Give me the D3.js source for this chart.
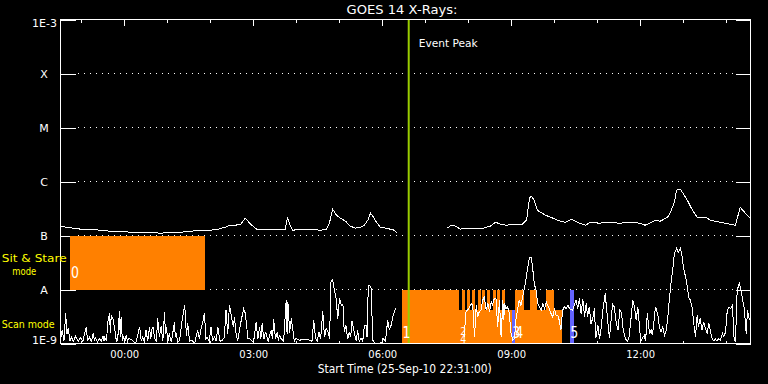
<!DOCTYPE html>
<html>
<head>
<meta charset="utf-8">
<script src="https://cdn.jsdelivr.net/npm/d3@7"></script>
<style>
  body { margin: 0; background: #000; }
  svg { display: block; background: #000; }
  text { font-family: "DejaVu Sans", sans-serif; fill: #fff; }
</style>
</head>
<body>
<svg width="768" height="384"></svg>
<script>
const svg = d3.select('svg');

const startTime = new Date(2010, 8, 25, 22, 31);
const endTime = new Date(2010, 8, 26, 14, 34);
const eventPeak = new Date(2010, 8, 26, 6, 37);

const fluxTicks = [1e-9, 1e-8, 1e-7, 1e-6, 1e-5, 1e-4, 1e-3];
const fluxLabels = ['1E-9', 'A', 'B', 'C', 'M', 'X', '1E-3'];

// [hours since start, flux in 1e-9 W/m2], null = data gap
const longChannel = [
  [0.00,149],[0.12,143],[0.28,137],[0.47,131],[0.70,131],[0.93,125],[1.16,120],[1.40,120],
  [1.63,115],[1.86,115],[2.09,115],[2.33,110],[2.56,115],[2.79,115],[3.02,120],[3.26,125],
  [3.49,125],[3.67,131],[3.84,143],[3.95,155],[4.07,155],[4.19,162],[4.30,209],[4.42,162],
  [4.56,131],[4.84,131],[5.07,131],[5.23,131],[5.28,218],[5.33,162],[5.40,125],[5.58,131],
  [5.81,131],[6.05,125],[6.19,131],[6.26,176],[6.33,307],[6.42,238],[6.51,209],[6.63,184],
  [6.74,149],[6.86,137],[6.98,143],[7.07,155],[7.16,200],[7.21,259],[7.28,218],[7.35,176],
  [7.44,143],[7.56,137],[7.67,131],[7.77,125],[7.84,110],[7.90,null],
  [9.00,137],[9.09,155],[9.19,149],[9.30,131],[9.47,137],[9.65,137],[9.84,137],[10.00,149],
  [10.12,176],[10.23,162],[10.37,155],[10.51,162],[10.65,162],[10.74,162],[10.84,192],[10.91,491],
  [10.95,534],[11.02,451],[11.09,294],[11.16,270],[11.28,238],[11.40,218],[11.51,200],[11.63,184],
  [11.74,176],[11.88,200],[12.02,176],[12.21,155],[12.33,176],[12.53,169],[12.77,176],[13.00,169],
  [13.26,176],[13.47,169],[13.60,155],[13.84,192],[13.95,184],[14.12,218],[14.19,270],[14.28,414],
  [14.33,690],[14.42,720],[14.51,557],[14.58,451],[14.70,294],[14.81,218],[15.00,218],[15.12,192],
  [15.35,176],[15.56,162],[15.70,155],[15.81,334],[15.93,259],[16.05,209]
];

const shortChannel = [
  [0.00,1.2],[0.04,1.76],[0.08,1.1],[0.12,3.59],[0.15,1.5],[0.18,1.92],[0.22,1.1],[0.25,1.33],
  [0.30,1.1],[0.35,1.36],[0.41,1.1],[0.47,1.29],[0.52,1.1],[0.56,1.55],[0.60,1.98],[0.63,1.1],
  [0.67,1.31],[0.72,1.1],[0.76,1.55],[0.79,1.1],[0.81,1.29],[0.86,1.05],[0.91,1.24],[0.95,1.1],
  [0.99,1.36],[1.01,1.1],[1.03,1.29],[1.07,1.1],[1.10,2.51],[1.14,3.59],[1.16,1.6],[1.18,3.34],
  [1.22,2.90],[1.26,1.9],[1.30,1.1],[1.33,1.15],[1.37,3.96],[1.39,1.3],[1.41,3.11],[1.44,1.1],
  [1.47,1.33],[1.50,1.1],[1.53,1.42],[1.56,1.1],[1.59,1.24],[1.67,1.15],[1.75,1.0],[1.84,2.03],
  [1.88,1.1],[1.91,1.29],[1.95,1.1],[1.99,1.76],[2.03,1.1],[2.07,1.98],[2.10,1.2],[2.12,1.76],
  [2.15,2.03],[2.19,1.24],[2.23,1.1],[2.26,2.90],[2.30,1.3],[2.34,2.09],[2.38,1.1],[2.42,3.85],
  [2.44,1.5],[2.46,2.03],[2.50,1.1],[2.53,1.53],[2.58,1.05],[2.65,2.51],[2.67,1.3],[2.69,1.53],
  [2.73,1.05],[2.77,1.15],[2.84,3.11],[2.89,5.12],[2.93,1.4],[2.96,2.35],[3.00,1.1],[3.06,1.15],
  [3.12,1.0],[3.19,1.76],[3.23,1.2],[3.27,1.9],[3.31,2.51],[3.35,3.69],[3.38,1.2],[3.41,1.29],
  [3.46,1.1],[3.50,2.03],[3.54,1.1],[3.58,1.33],[3.62,1.1],[3.66,2.03],[3.71,1.1],[3.76,1.15],
  [3.81,1.3],[3.85,4.14],[3.89,1.5],[3.93,5.12],[3.97,3.34],[4.02,2.03],[4.05,3.11],[4.07,1.76],
  [4.12,1.1],[4.19,2.35],[4.26,4.44],[4.30,3.59],[4.36,1.24],[4.42,1.2],[4.49,1.05],[4.55,2.51],
  [4.59,1.2],[4.63,2.03],[4.66,1.2],[4.69,2.35],[4.73,1.2],[4.77,1.64],[4.83,1.1],[4.90,1.76],
  [4.93,1.2],[4.96,2.78],[5.00,1.2],[5.04,1.64],[5.07,1.1],[5.09,1.42],[5.13,1.24],[5.19,1.1],
  [5.25,6.34],[5.27,1.5],[5.29,5.90],[5.33,1.6],[5.37,2.90],[5.40,1.9],[5.44,1.1],[5.48,1.24],
  [5.56,1.15],[5.67,1.2],[5.81,1.15],[5.85,1.1],[5.89,2.70],[5.93,1.3],[5.97,1.1],[6.01,1.64],
  [6.05,1.2],[6.10,4.01],[6.14,1.3],[6.18,1.9],[6.22,1.64],[6.26,1.24],[6.29,13.8],[6.33,15.3],
  [6.37,9.71],[6.41,6.81],[6.45,2.90],[6.49,6.81],[6.53,5.12],[6.57,5.34],[6.60,1.64],[6.64,2.18],
  [6.68,1.2],[6.72,1.64],[6.75,1.3],[6.78,2.62],[6.84,1.53],[6.88,1.1],[6.91,1.76],[6.95,1.1],
  [6.99,1.24],[7.03,1.1],[7.07,2.18],[7.11,2.18],[7.13,1.3],[7.16,12.0],[7.19,12.0],[7.23,10.4],
  [7.26,1.15],[7.33,1.0],[7.40,1.0],[7.47,1.05],[7.52,1.24],[7.56,1.1],[7.61,2.70],[7.65,1.76],
  [7.69,2.18],[7.73,3.11],[7.77,4.01],[7.81,4.6],[7.85,null],
  [9.39,1.3],[9.43,3.85],[9.50,4.44],[9.55,5.50],[9.59,5.12],[9.63,1.3],[9.67,5.12],[9.70,3.11],
  [9.74,3.85],[9.78,4.14],[9.82,6.34],[9.86,7.31],[9.90,4.14],[9.94,5.50],[9.98,3.85],[10.02,5.90],
  [10.05,5.12],[10.09,6.81],[10.13,6.81],[10.17,2.03],[10.21,6.34],[10.25,1.3],[10.29,6.34],[10.31,2.70],
  [10.33,5.50],[10.36,4.44],[10.40,4.76],[10.44,3.59],[10.48,1.53],[10.52,1.15],[10.56,1.24],[10.60,3.11],
  [10.63,4.14],[10.67,6.34],[10.71,5.12],[10.75,7.31],[10.79,10.4],[10.83,16.0],[10.87,26.2],[10.91,39.1],
  [10.95,39.1],[10.98,26.2],[11.02,12.9],[11.06,9.71],[11.10,5.50],[11.14,4.76],[11.18,4.14],[11.22,5.50],
  [11.26,4.44],[11.30,5.90],[11.33,5.12],[11.37,4.44],[11.41,3.59],[11.45,3.11],[11.49,4.44],[11.53,3.34],
  [11.57,3.34],[11.60,2.70],[11.64,1.76],[11.68,4.14],[11.72,4.76],[11.76,4.44],[11.80,5.12],[11.84,4.44],
  [11.91,4.14],[11.99,6.34],[12.03,4.44],[12.07,6.81],[12.11,3.59],[12.15,6.53],[12.19,3.11],[12.23,5.50],
  [12.26,3.11],[12.30,4.76],[12.34,2.35],[12.38,2.90],[12.42,4.44],[12.45,1.24],[12.50,2.18],[12.54,1.2],
  [12.57,1.76],[12.62,4.44],[12.67,8.43],[12.72,3.11],[12.77,1.24],[12.84,5.34],[12.88,4.76],[12.93,2.35],
  [12.97,1.76],[13.01,4.26],[13.05,3.59],[13.09,1.76],[13.14,1.24],[13.18,1.1],[13.22,1.24],[13.26,2.35],
  [13.31,6.34],[13.35,4.76],[13.39,2.70],[13.43,4.76],[13.47,1.9],[13.50,1.1],[13.53,1.24],[13.58,1.42],
  [13.61,1.1],[13.65,3.59],[13.70,1.53],[13.74,1.76],[13.77,1.42],[13.84,4.76],[13.89,3.59],[13.93,2.03],
  [13.97,1.64],[14.01,2.03],[14.05,1.42],[14.09,1.76],[14.12,2.70],[14.16,6.34],[14.20,12.9],[14.24,22.8],
  [14.28,46.4],[14.33,57.5],[14.37,49.1],[14.42,57.5],[14.46,40.2],[14.49,26.2],[14.53,18.4],[14.57,12.9],
  [14.61,7.31],[14.65,6.34],[14.69,4.76],[14.73,2.35],[14.77,1.33],[14.81,3.34],[14.84,2.03],[14.88,2.90],
  [14.92,1.76],[14.96,2.51],[15.00,1.9],[15.04,1.53],[15.08,2.35],[15.12,1.64],[15.16,1.24],[15.20,1.1],
  [15.23,1.24],[15.27,1.1],[15.31,1.24],[15.35,1.15],[15.40,1.53],[15.43,1.33],[15.47,1.64],[15.51,4.14],
  [15.55,4.76],[15.59,4.44],[15.63,5.12],[15.67,1.15],[15.70,1.1],[15.74,9.71],[15.79,12.9],[15.83,9.71],
  [15.87,6.34],[15.91,4.14],[15.95,1.53],[15.98,4.14],[16.02,2.90],[16.05,2.70]
];

// observing mode blocks (hours since start, flux W/m2)
const modeStart = [0.23, 7.95, 7.95, 9.33, 9.45, 9.58, 9.70, 9.81, 9.93, 10.05, 10.16, 10.28, 10.58, 10.93, 11.30, 10.51, 11.86];
const modeEnd   = [3.35, 11.67, 9.28, 9.41, 9.53, 9.65, 9.77, 9.88, 10.00, 10.12, 10.23, 10.35, 10.77, 11.09, 11.49, 10.57, 11.95];
const modeLow   = [1e-8, 1e-9, 4.1e-9, 4.1e-9, 4.1e-9, 4.1e-9, 4.1e-9, 4.1e-9, 4.1e-9, 4.1e-9, 4.1e-9, 4.1e-9, 4.1e-9, 4.1e-9, 4.1e-9, 1e-9, 1e-9];
const modeHigh  = [1e-7, 4.1e-9, 1e-8, 1e-8, 1e-8, 1e-8, 1e-8, 1e-8, 1e-8, 1e-8, 1e-8, 1e-8, 1e-8, 1e-8, 1e-8, 4.1e-9, 1e-8];
const modeType  = ['flare', 'flare', 'flare', 'flare', 'flare', 'flare', 'flare', 'flare', 'flare', 'flare', 'flare', 'flare', 'flare', 'flare', 'flare', 'other', 'other'];

const markText  = ['0', '1', '2', '4', '3', '4', '5'];
const markHours = [0.34, 8.05, 9.37, 9.37, 10.60, 10.67, 11.95];
const markFlux  = [2.1e-8, 1.6e-9, 1.70e-9, 1.21e-9, 1.6e-9, 1.6e-9, 1.6e-9];

const color = d3.scaleOrdinal().domain(['flare', 'other']).range(['#ff8000', '#6464ff']);

const plotLeft = 60.5, plotRight = 750.5, plotTop = 19.5, plotBottom = 343.5;
const hrs = h => new Date(+startTime + h * 3600e3);

const x = d3.scaleTime().domain([startTime, endTime]).range([plotLeft, plotRight]);
const y = d3.scaleLog().domain([1e-9, 1e-3]).range([plotBottom, plotTop]);

// dotted class lines
svg.append('g')
  .selectAll('line')
  .data(fluxTicks.slice(1, -1))
  .join('line')
  .attr('x1', 78).attr('x2', 736)
  .attr('y1', d => y(d)).attr('y2', d => y(d))
  .attr('stroke', '#fff')
  .attr('stroke-dasharray', '1,5')
  .attr('shape-rendering', 'crispEdges');

// axes tick marks
const styleAxis = g => {
  g.select('.domain').remove();
  g.selectAll('line').attr('stroke', '#fff').attr('shape-rendering', 'crispEdges');
};
svg.append('g').attr('transform', `translate(${plotLeft},0)`)
  .call(d3.axisLeft(y).tickValues(fluxTicks).tickSize(-15).tickFormat(''))
  .call(styleAxis);
svg.append('g').attr('transform', `translate(${plotRight},0)`)
  .call(d3.axisRight(y).tickValues(fluxTicks).tickSize(-15).tickFormat(''))
  .call(styleAxis);
svg.append('g').attr('transform', `translate(0,${plotTop})`)
  .call(d3.axisTop(x).ticks(d3.timeHour.every(1)).tickSize(-3).tickFormat(''))
  .call(styleAxis);
svg.append('g').attr('transform', `translate(0,${plotTop})`)
  .call(d3.axisTop(x).ticks(d3.timeHour.every(3)).tickSize(-6).tickFormat(''))
  .call(styleAxis);
svg.append('g').attr('transform', `translate(0,${plotBottom})`)
  .call(d3.axisBottom(x).ticks(d3.timeHour.every(1)).tickSize(-3).tickFormat(''))
  .call(styleAxis);
const xAxisG = svg.append('g').attr('transform', `translate(0,${plotBottom})`)
  .call(d3.axisBottom(x).ticks(d3.timeHour.every(3)).tickSize(-6).tickFormat(d3.timeFormat('%H:%M')))
  .call(styleAxis);
xAxisG.selectAll('text')
  .attr('y', 11.2).attr('dy', '0.35em')
  .attr('fill', '#fff')
  .style('font-size', '10px')
  .style('font-family', '"DejaVu Sans", sans-serif');

// mode blocks
svg.append('g')
  .selectAll('rect')
  .data(modeStart.map((s, i) => i))
  .join('rect')
  .attr('x', i => x(hrs(modeStart[i])))
  .attr('width', i => x(hrs(modeEnd[i])) - x(hrs(modeStart[i])))
  .attr('y', i => y(modeHigh[i]))
  .attr('height', i => y(modeLow[i]) - y(modeHigh[i]))
  .attr('fill', i => color(modeType[i]))
  .attr('shape-rendering', 'crispEdges');

// event peak
svg.append('line')
  .attr('x1', x(eventPeak)).attr('x2', x(eventPeak))
  .attr('y1', plotTop).attr('y2', plotBottom)
  .attr('stroke', '#99cc00').attr('stroke-width', 2);
svg.append('text')
  .attr('x', 418.7).attr('y', 42.8).attr('dy', '0.35em')
  .attr('textLength', 59).attr('lengthAdjust', 'spacingAndGlyphs')
  .style('font-size', '11px')
  .text('Event Peak');

// flux curves
const line = d3.line()
  .defined(d => d[1] !== null)
  .x(d => x(hrs(d[0])))
  .y(d => y(d[1] * 1e-9));
[longChannel, shortChannel].forEach(series => {
  svg.append('path')
    .datum(series)
    .attr('d', line)
    .attr('fill', 'none')
    .attr('stroke', '#fff')
    .attr('stroke-width', 1)
    .attr('shape-rendering', 'crispEdges');
});

// mode numbers (the 2/4 pair is written small and stacked)
const small = i => i === 2 || i === 3;
svg.append('g')
  .selectAll('text')
  .data(markText.map((t, i) => i))
  .join('text')
  .attr('x', i => x(hrs(markHours[i])))
  .attr('y', i => y(markFlux[i]))
  .attr('dy', '0.36em')
  .attr('text-anchor', 'middle')
  .attr('textLength', i => small(i) ? 6 : 8).attr('lengthAdjust', 'spacingAndGlyphs')
  .style('font-size', i => small(i) ? '11px' : '15px')
  .text(i => markText[i]);

// frame
svg.append('rect')
  .attr('x', plotLeft).attr('y', plotTop)
  .attr('width', plotRight - plotLeft).attr('height', plotBottom - plotTop)
  .attr('fill', 'none').attr('stroke', '#fff')
  .attr('shape-rendering', 'crispEdges');

// flux labels
svg.append('g')
  .selectAll('text')
  .data(fluxLabels)
  .join('text')
  .attr('x', d => d.length > 1 ? 57 : 44)
  .attr('y', (d, i) => i === 0 ? 339.7 : i === fluxLabels.length - 1 ? 23 : y(fluxTicks[i]) + 0.5)
  .attr('dy', '0.36em')
  .attr('text-anchor', d => d.length > 1 ? 'end' : 'middle')
  .style('font-size', '11px')
  .text(d => d);

// titles
svg.append('text')
  .attr('x', 402).attr('y', 9.5).attr('dy', '0.36em')
  .attr('text-anchor', 'middle')
  .attr('textLength', 111).attr('lengthAdjust', 'spacingAndGlyphs')
  .style('font-size', '12px')
  .text('GOES 14 X-Rays:');
svg.append('text')
  .attr('x', 404.8).attr('y', 368.3).attr('dy', '0.36em')
  .attr('text-anchor', 'middle')
  .attr('textLength', 174).attr('lengthAdjust', 'spacingAndGlyphs')
  .style('font-size', '12px')
  .text('Start Time (25-Sep-10 22:31:00)');

// mode names
const modeNames = [['Sit & Stare', 1.7, 258.5, 65], ['mode', 12.3, 271.5, 24], ['Scan mode', 1.7, 324, 53]];
svg.append('g')
  .selectAll('text')
  .data(modeNames)
  .join('text')
  .attr('x', d => d[1]).attr('y', d => d[2]).attr('dy', '0.36em')
  .attr('textLength', d => d[3]).attr('lengthAdjust', 'spacingAndGlyphs')
  .style('font-size', '10.5px')
  .style('fill', '#ffff00')
  .text(d => d[0]);
</script>
</body>
</html>
